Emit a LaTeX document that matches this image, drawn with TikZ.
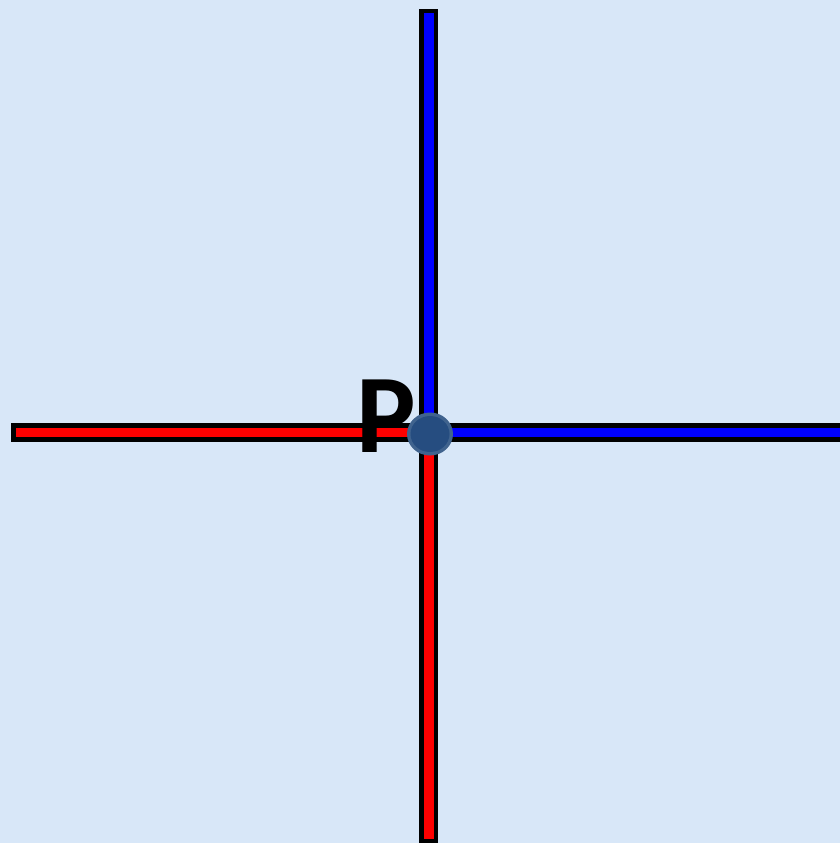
\documentclass[tikz,border=0pt]{standalone}
\usepackage{fontspec}
\newfontfamily\pfont{Carlito}
\definecolor{bg}{RGB}{216,231,248}
\definecolor{dotfill}{RGB}{38,77,128}
\definecolor{dotring}{RGB}{64,99,142}
\begin{document}
\begin{tikzpicture}[x=1pt,y=-1pt,
  outerbar/.style={fill=black},
  bluebar/.style={fill={rgb,255:red,0;green,0;blue,255}},
  redbar/.style={fill={rgb,255:red,255;green,0;blue,0}},
  label/.style={font=\pfont\bfseries\fontsize{112}{112}\selectfont, text=black, inner sep=0pt}]
\fill[bg] (0,0) rectangle (840,843);
\useasboundingbox (0,0) rectangle (840,843);
% outer black borders
\fill[outerbar] (418.5,9) rectangle (437.5,843);
\fill[outerbar] (11,422.5) rectangle (840,442);
% coloured inner bars
\fill[bluebar] (423.5,13.5) rectangle (434,432);
\fill[redbar] (423.5,432) rectangle (434,839);
\fill[redbar] (15.5,427.5) rectangle (428,437);
\fill[bluebar] (428,427.5) rectangle (840,437);
% label
\node[label, anchor=base] (p) at (386.5,452) {P};
% point
\coordinate (c) at (430,434);
\fill[dotring] (c) ellipse [x radius=23, y radius=21.5];
\fill[dotfill] (c) ellipse [x radius=19.5, y radius=18];
\end{tikzpicture}
\end{document}
